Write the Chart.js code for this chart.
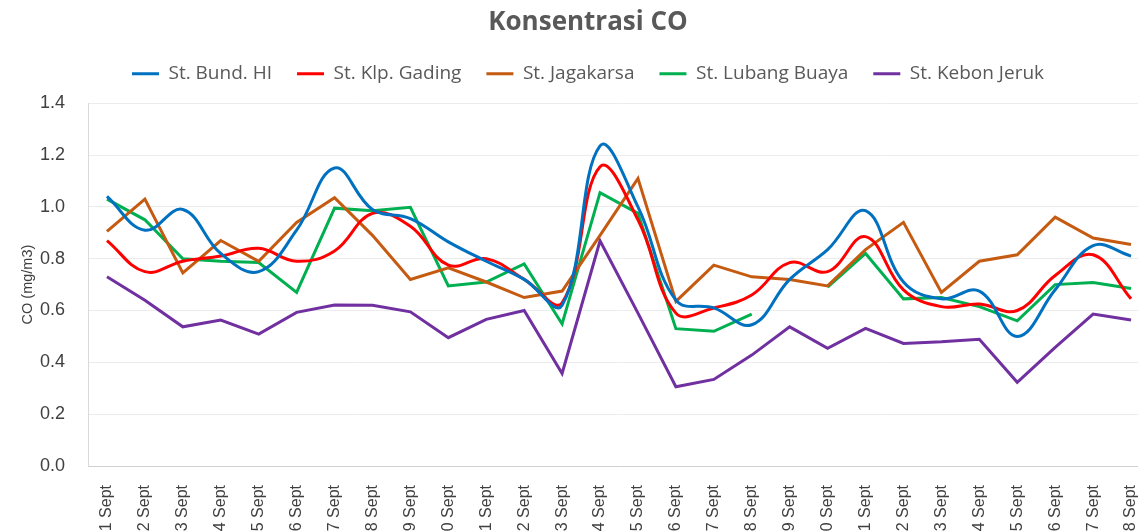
<!DOCTYPE html>
<html>
<head>
<meta charset="utf-8">
<title>Konsentrasi CO</title>
<script src="https://cdn.jsdelivr.net/npm/chart.js@4.4.0/dist/chart.umd.min.js"></script>
<style>
  html, body { margin: 0; padding: 0; background: #fff; overflow: hidden; }
  #wrap { width: 1176px; height: 560px; }
</style>
</head>
<body>
<div id="wrap"><canvas id="co-chart" width="1176" height="560"></canvas></div>
<script>
// tanggal pengukuran
const days = ['1 Sept', '2 Sept', '3 Sept', '4 Sept', '5 Sept', '6 Sept', '7 Sept',
  '8 Sept', '9 Sept', '10 Sept', '11 Sept', '12 Sept', '13 Sept', '14 Sept',
  '15 Sept', '16 Sept', '17 Sept', '18 Sept', '19 Sept', '20 Sept', '21 Sept',
  '22 Sept', '23 Sept', '24 Sept', '25 Sept', '26 Sept', '27 Sept', '28 Sept'];

// nilai CO per stasiun (mg/m3)
const bundHI = [1.04, 0.91, 0.99, 0.82, 0.75, 0.91, 1.15, 0.99, 0.955, 0.865, 0.79, 0.72, 0.62, 1.235,
  1.0, 0.64, 0.61, 0.545, 0.72, 0.835, 0.985, 0.71, 0.645, 0.675, 0.50, 0.68, 0.85, 0.81];
const klpGading = [0.87, 0.75, 0.79, 0.81, 0.84, 0.79, 0.83, 0.975, 0.925, 0.775, 0.80, 0.72, 0.63, 1.155,
  0.95, 0.59, 0.61, 0.66, 0.785, 0.75, 0.885, 0.68, 0.615, 0.625, 0.60, 0.735, 0.815, 0.645];
const jagakarsa = [0.905, 1.03, 0.745, 0.87, 0.79, 0.94, 1.035, 0.89, 0.72, 0.765, 0.71, 0.65, 0.675, 0.89,
  1.11, 0.635, 0.775, 0.73, 0.72, 0.695, 0.835, 0.94, 0.67, 0.79, 0.815, 0.96, 0.88, 0.855];
const lubangBuaya = [1.03, 0.95, 0.80, 0.79, 0.785, 0.67, 0.995, 0.985, 0.998, 0.695, 0.71, 0.78, 0.548, 1.055,
  0.975, 0.53, 0.52, 0.586, null, 0.69, 0.82, 0.645, 0.65, 0.615, 0.56, 0.70, 0.708, 0.685];
const kebonJeruk = [0.73, 0.64, 0.537, 0.563, 0.509, 0.593, 0.621, 0.62, 0.595, 0.495, 0.566, 0.60, 0.357, 0.869,
  0.59, 0.306, 0.334, 0.428, 0.537, 0.454, 0.531, 0.473, 0.479, 0.489, 0.323, 0.458, 0.586, 0.563];

const yTicks = [0.0, 0.2, 0.4, 0.6, 0.8, 1.0, 1.2, 1.4];

function line(label, data, color, smooth) {
  return {
    label: label,
    data: data,
    borderColor: color,
    backgroundColor: color,
    borderWidth: 3,
    pointRadius: 0,
    tension: smooth ? 0.4 : 0,
    fill: false
  };
}

const ctx = document.getElementById('co-chart').getContext('2d');
const chart = new Chart(ctx, {
  type: 'line',
  data: {
    labels: days,
    datasets: [
      line('St. Bund. HI', bundHI, '#0070C0', true),
      line('St. Klp. Gading', klpGading, '#FF0000', true),
      line('St. Jagakarsa', jagakarsa, '#C55A11', false),
      line('St. Lubang Buaya', lubangBuaya, '#00B050', false),
      line('St. Kebon Jeruk', kebonJeruk, '#7030A0', false)
    ]
  },
  options: {
    responsive: false,
    devicePixelRatio: 1,
    animation: false,
    layout: { padding: 0 },
    plugins: {
      title: {
        display: true,
        text: 'Konsentrasi CO',
        color: '#595959',
        font: { family: "'Open Sans', sans-serif", size: 26, weight: 'bold' },
        padding: { top: 7, bottom: 1 }
      },
      legend: {
        position: 'top',
        labels: {
          usePointStyle: true,
          pointStyle: 'line',
          pointStyleWidth: 27,
          padding: 25,
          color: '#595959',
          font: { family: "'Open Sans', sans-serif", size: 19 }
        }
      },
      tooltip: { enabled: false }
    },
    scales: {
      x: {
        type: 'category',
        offset: true,
        grid: { display: false },
        border: { display: true, color: '#d0d0d0', width: 1 },
        ticks: {
          autoSkip: false,
          maxRotation: 90,
          minRotation: 90,
          padding: 11,
          color: '#404040',
          font: { family: "'Liberation Sans', Arial, sans-serif", size: 16 }
        },
        afterFit: (scale) => { scale.height = 94; }
      },
      y: {
        min: 0,
        max: 1.4,
        afterBuildTicks: (scale) => { scale.ticks = yTicks.map(v => ({ value: v })); },
        grid: { color: '#ececec', lineWidth: 1, drawTicks: false },
        border: { display: true, color: '#d9d9d9', width: 1 },
        ticks: {
          padding: 23,
          color: '#404040',
          font: { family: "'Liberation Sans', Arial, sans-serif", size: 18 },
          callback: (v) => Number(v).toFixed(1)
        },
        title: {
          display: true,
          text: 'CO (mg/m3)',
          color: '#404040',
          padding: { top: 19, bottom: 0 },
          font: { family: "'Liberation Sans', Arial, sans-serif", size: 14.5 }
        },
        afterFit: (scale) => { scale.width = 88; }
      },
      // ruang kosong di atas area plot dan di kanan
      gapTop: {
        type: 'linear',
        position: 'top',
        grid: { display: false },
        border: { display: false },
        ticks: { display: false },
        afterFit: (scale) => { scale.height = 10; }
      },
      gapRight: {
        type: 'linear',
        position: 'right',
        grid: { display: false },
        border: { display: false },
        ticks: { display: false },
        afterFit: (scale) => { scale.width = 26; }
      }
    }
  }
});
</script>
</body>
</html>
